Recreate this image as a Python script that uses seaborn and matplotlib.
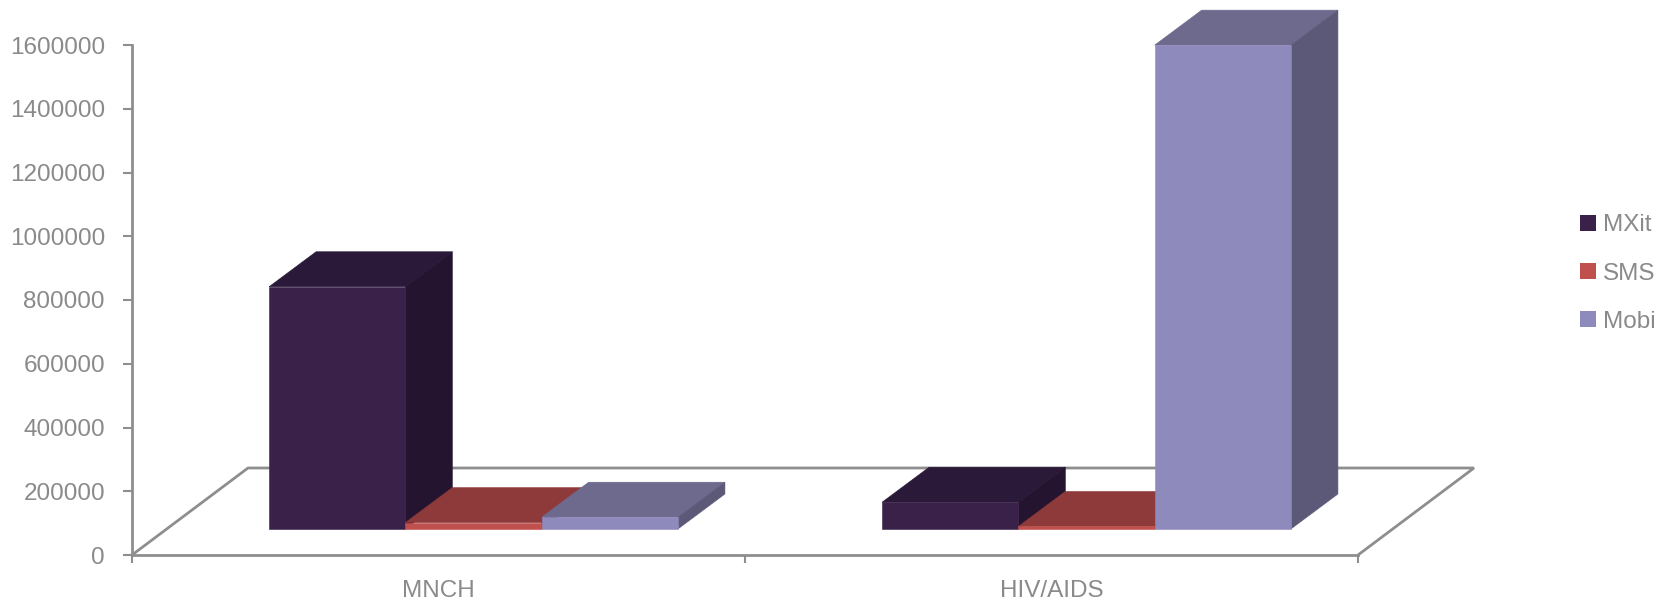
import matplotlib
matplotlib.use("Agg")
import matplotlib.pyplot as plt
import pandas as pd
import seaborn as sns
from matplotlib.patches import Polygon
from matplotlib.ticker import ScalarFormatter

# Outreach per programme and channel
categories = ["MNCH", "HIV/AIDS"]
channels = ["MXit", "SMS", "Mobi"]
mxit_values = [760000, 84000]
sms_values = [20000, 8000]
mobi_values = [37000, 1518000]
y_ticks = [0, 200000, 400000, 600000, 800000, 1000000, 1200000, 1400000, 1600000]

front_colors = ["#3A2149", "#C0504D", "#8F8ABC"]
top_colors = ["#2B1939", "#8E3A3A", "#6E6A8D"]
side_colors = ["#25142F", "#7A3230", "#5C5878"]
TEXT = "#8A8A8A"
LINE = "#8E8E8E"
FONT_SIZE = 17.5

W, H = 1674, 601
sns.set_theme(style="white")
plt.rcParams["font.family"] = ["Liberation Sans", "DejaVu Sans"]
plt.rcParams["font.size"] = FONT_SIZE

rows = []
for i, cat in enumerate(categories):
    rows.append((cat, "MXit", mxit_values[i]))
    rows.append((cat, "SMS", sms_values[i]))
    rows.append((cat, "Mobi", mobi_values[i]))
df = pd.DataFrame(rows, columns=["category", "channel", "value"])

fig = plt.figure(figsize=(W / 100, H / 100), dpi=100, facecolor="white")

# Scale shared by both axes: pixels per category and per unit of value
PLOT_W, PLOT_H = 1226, 510
px_per_cat = PLOT_W / 2
px_per_val = PLOT_H / 1600000


def depth(dx_px, dy_px):
    return dx_px / px_per_cat, dy_px / px_per_val


# Floor and value axis
floor = fig.add_axes([132 / W, (H - 555) / H, PLOT_W / W, PLOT_H / H])
floor.set_xlim(-0.5, 1.5)
floor.set_ylim(0, 1600000)
floor.set_facecolor("none")
for name in ("top", "right"):
    floor.spines[name].set_visible(False)
for name in ("left", "bottom"):
    floor.spines[name].set_color(LINE)
    floor.spines[name].set_linewidth(2)
floor.set_yticks(y_ticks)
formatter = ScalarFormatter(useOffset=False)
formatter.set_scientific(False)
floor.yaxis.set_major_formatter(formatter)
floor.set_xticks([-0.5, 0.5, 1.5])
floor.set_xticklabels([])
floor.set_xticks([0, 1], minor=True)
floor.set_xticklabels(categories, minor=True)
floor.tick_params(axis="y", left=True, length=6.5, width=1.5, color=LINE,
                  labelcolor=TEXT, labelsize=FONT_SIZE, pad=13)
floor.tick_params(axis="x", which="major", bottom=True, length=6, width=1.5, color=LINE)
floor.tick_params(axis="x", which="minor", bottom=False, labelcolor=TEXT,
                  labelsize=FONT_SIZE, pad=14)
fdx, fdy = depth(116, 87)
floor.plot([-0.5, -0.5 + fdx, 1.5 + fdx, 1.5], [0, fdy, fdy, 0],
           color=LINE, lw=2, clip_on=False, solid_joinstyle="miter")

# Bars sit further back on the floor, so their baseline is shifted up and right
bars = fig.add_axes([(132 + 35) / W, (H - 529) / H, PLOT_W / W, PLOT_H / H])
sns.barplot(data=df, x="category", y="value", hue="channel", order=categories,
            hue_order=channels, palette=front_colors, saturation=1, width=0.667,
            gap=0, linewidth=0, ax=bars)
bars.set_xlim(-0.5, 1.5)
bars.set_ylim(0, 1600000)
bars.set_facecolor("none")

bdx, bdy = depth(47, 35)
faces = []
for c_idx, container in enumerate(bars.containers):
    for rect in container:
        faces.append((rect.get_x(), c_idx, rect))
faces.sort(key=lambda item: item[0])

# Paint left to right, since each bar hides part of its left neighbour
z = 3
for x0, c_idx, rect in faces:
    x1 = x0 + rect.get_width()
    v = rect.get_height()
    top = Polygon([(x0, v), (x1, v), (x1 + bdx, v + bdy), (x0 + bdx, v + bdy)],
                  closed=True, facecolor=top_colors[c_idx], edgecolor=top_colors[c_idx],
                  linewidth=0.4, clip_on=False, zorder=z)
    side = Polygon([(x1, 0), (x1 + bdx, bdy), (x1 + bdx, v + bdy), (x1, v)],
                   closed=True, facecolor=side_colors[c_idx], edgecolor=side_colors[c_idx],
                   linewidth=0.4, clip_on=False, zorder=z + 0.1)
    bars.add_patch(top)
    bars.add_patch(side)
    rect.set_edgecolor(front_colors[c_idx])
    rect.set_linewidth(0.4)
    rect.set_zorder(z + 0.2)
    rect.set_clip_on(False)
    z += 1

sns.move_legend(bars, loc="center left", bbox_to_anchor=(1563 / W, (H - 273.5) / H),
                bbox_transform=fig.transFigure, frameon=False, title=None,
                fontsize=FONT_SIZE, labelcolor=TEXT, handlelength=0.64, handleheight=0.64,
                handletextpad=0.3, labelspacing=1.08, borderpad=0.2)
bars.axis("off")

fig.savefig("out.png", dpi=100, facecolor="white")
